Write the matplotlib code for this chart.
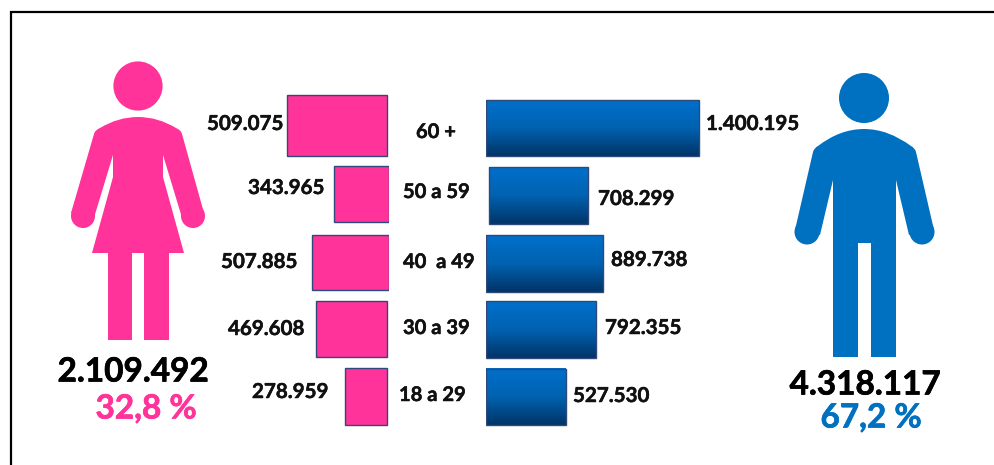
#!/usr/bin/python3

import numpy as np
import matplotlib
matplotlib.use('Agg')
import matplotlib.pyplot as plt
import matplotlib.patheffects as pe
from matplotlib.colors import LinearSegmentedColormap
from matplotlib.path import Path
from matplotlib.patches import PathPatch, Circle

age_labels = ['60 +', '50 a 59', '40  a 49', '30 a 39', '18 a 29']
women_labels = ['509.075', '343.965', '507.885', '469.608', '278.959']
men_labels = ['1.400.195', '708.299', '889.738', '792.355', '527.530']

# the bars in the picture are not to scale with their labels, these are the drawn lengths
women_drawn = [660000, 363000, 508000, 469000, 277000]
men_drawn = [1405000, 653000, 772000, 726000, 528000]

women_total = '2.109.492'
women_share = '32,8 %'
men_total = '4.318.117'
men_share = '67,2 %'

PINK = '#FF3399'
BLUE = '#0070C0'
EDGE = '#2F4A7A'
W, H = 995, 465
PX = 6600  # data units per pixel in the bar axes


def body_path(points):
    # points: (x, y) or ('c', cx, cy, x, y) for a quadratic curve
    verts = []
    codes = []
    for i, p in enumerate(points):
        if p[0] == 'c':
            verts += [(p[1], p[2]), (p[3], p[4])]
            codes += [Path.CURVE3, Path.CURVE3]
        else:
            verts.append(p)
            codes.append(Path.MOVETO if i == 0 else Path.LINETO)
    verts.append(points[0])
    codes.append(Path.CLOSEPOLY)
    return Path(verts, codes)


def draw_icon(ax, points, head, hands, color):
    ax.add_patch(PathPatch(body_path(points), fc=color, ec='none'))
    ax.add_patch(Circle(head[:2], head[2], fc=color, ec='none'))
    for h in hands:
        ax.add_patch(Circle(h[:2], h[2], fc=color, ec='none'))


def bar_axes(fig, x0, x1):
    ax = fig.add_axes([x0 / W, 0, (x1 - x0) / W, 1])
    ax.set_ylim(H, 0)
    ax.axis('off')
    ax.patch.set_alpha(0)
    return ax


def label(ax, x, y, s, size, color='#111111', ha='left', stroke=0.35):
    t = ax.text(x, y, s, fontsize=size, ha=ha, va='center', color=color)
    t.set_path_effects([pe.withStroke(linewidth=stroke, foreground=color)])


def main():
    plt.rcParams['font.family'] = ['Lato', 'DejaVu Sans']
    plt.rcParams['font.weight'] = 'bold'

    fig = plt.figure(figsize=(W / 100, H / 100), dpi=100)
    bg = fig.add_axes([0, 0, 1, 1])
    bg.set_xlim(0, W)
    bg.set_ylim(H, 0)
    bg.axis('off')

    # frame, only top and left are inside the picture
    bg.plot([10.5, 10.5, W], [H, 12, 12], color='black', lw=1.6, solid_joinstyle='miter')

    woman = [(94, 134), ('c', 95, 130, 100, 128), ('c', 118, 117, 138, 117), ('c', 158, 117, 176, 128),
             ('c', 181, 130, 182, 134), (204, 213), (183, 221), (163, 155),
             (163, 177), (184, 253), (169, 253), (169, 340), (144, 340), (144, 253),
             (132, 253), (132, 340), (108, 340), (108, 253), (92, 253), (113, 177),
             (113, 155), (93, 221), (71, 213)]
    draw_icon(bg, woman, (138, 86, 24.6), [(83, 216, 12), (193, 216, 12)], PINK)

    man = [(813, 152), ('c', 814, 148, 818, 146), ('c', 840, 129, 864, 129), ('c', 888, 129, 911, 146),
           ('c', 915, 148, 916, 152), (934, 230), (909, 235), (896, 180),
           (896, 357), (871, 357), (871, 243), (858, 243), (858, 357), (833, 357),
           (833, 180), (820, 235), (795, 230)]
    draw_icon(bg, man, (864, 98, 25), [(807, 232, 12.5), (922, 232, 12.5)], BLUE)

    # women bars grow to the left from x=389
    tops_w = [95, 166, 235, 301, 368]
    bottoms_w = [156, 222, 290, 357, 425]
    shift_w = [2, 0, 0, 2, 2]
    ax_w = bar_axes(fig, 0, 389)
    ax_w.set_xlim(389 * PX, 0)
    for i in range(len(women_drawn)):
        ax_w.barh((tops_w[i] + bottoms_w[i]) / 2, women_drawn[i],
                  height=bottoms_w[i] - tops_w[i], left=shift_w[i] * PX,
                  color=PINK, edgecolor=EDGE, linewidth=1)

    # men bars grow to the right from x=486, with a gradient fill
    tops_m = [100, 167, 235, 301, 369]
    bottoms_m = [156, 224, 292, 358, 425]
    shift_m = [0, 3, 0, 0, 0]
    ax_m = bar_axes(fig, 486, W)
    grad = LinearSegmentedColormap.from_list('bl', ['#0070CC', '#0062B0', '#003468'])
    g = np.linspace(0, 1, 128).reshape(-1, 1)
    for i in range(len(men_drawn)):
        bar = ax_m.barh((tops_m[i] + bottoms_m[i]) / 2, men_drawn[i],
                        height=bottoms_m[i] - tops_m[i], left=shift_m[i] * PX,
                        color='none', edgecolor=EDGE, linewidth=1, zorder=3)[0]
        ax_m.imshow(g, cmap=grad, aspect='auto', zorder=2,
                    extent=(bar.get_x(), bar.get_x() + bar.get_width(), bottoms_m[i], tops_m[i]))
    ax_m.set_xlim(0, (W - 486) * PX)
    ax_m.set_ylim(H, 0)

    # value labels, left edge in pixels
    wx = [207, 248, 221, 228, 252]
    wy = [124, 188, 262, 329, 392]
    mx = [706, 598, 611, 605, 573]
    my = [124, 199, 260, 328, 396]
    for i in range(5):
        label(bg, wx[i], wy[i], women_labels[i], 14.8)
        label(bg, mx[i], my[i], men_labels[i], 14.8)

    ax_x = [416, 403, 403, 403, 399]
    ax_y = [132, 192, 262, 328, 395]
    for i in range(5):
        label(bg, ax_x[i], ax_y[i], age_labels[i], 14.5)

    label(bg, 133, 372, women_total, 24, color='black', ha='center', stroke=0.5)
    label(bg, 146, 409, women_share, 24, color=PINK, ha='center', stroke=0.5)
    label(bg, 865, 385, men_total, 24, color='black', ha='center', stroke=0.5)
    label(bg, 871, 418, men_share, 24, color=BLUE, ha='center', stroke=0.5)

    fig.savefig('out.png', dpi=100)


if __name__ == "__main__":
    main()
